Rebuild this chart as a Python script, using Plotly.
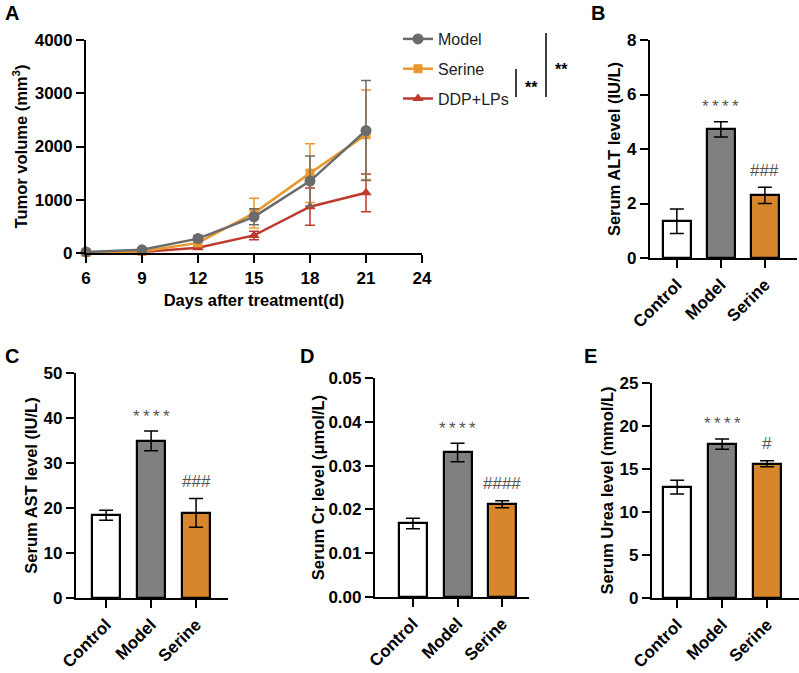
import plotly.graph_objects as go

W, H = 799, 673
FONT = "Liberation Sans"

# ---------- Panel A data ----------
days = [6, 9, 12, 15, 18, 21]
model_vol = [20, 60, 270, 680, 1350, 2300]
model_err = [10, 20, 60, 150, 470, 940]
serine_vol = [10, 30, 190, 750, 1500, 2220]
serine_err = [8, 15, 50, 280, 550, 840]
ddp_vol = [5, 20, 100, 330, 870, 1130]
ddp_err = [4, 10, 30, 80, 350, 355]
a_xticks = [6, 9, 12, 15, 18, 21, 24]
a_yticks = [0, 1000, 2000, 3000, 4000]

# ---------- Bar panels data ----------
groups = ["Control", "Model", "Serine"]
alt_mean = [1.35, 4.72, 2.30]
alt_err = [0.45, 0.28, 0.30]
ast_mean = [18.4, 34.9, 18.9]
ast_err = [1.1, 2.2, 3.2]
cr_mean = [0.0168, 0.0330, 0.0212]
cr_err = [0.0012, 0.0021, 0.0008]
urea_mean = [12.9, 17.9, 15.6]
urea_err = [0.8, 0.6, 0.35]
alt_sig = ["", "****", "###"]
ast_sig = ["", "****", "###"]
cr_sig = ["", "****", "####"]
urea_sig = ["", "****", "#"]

bar_colors = ["#FFFFFF", "#808080", "#D8862C"]
c_model, c_serine, c_ddp = "#6B6B6B", "#E9982F", "#BF3A2E"


def px_x(p):
    return p / W


def px_y(p):
    return 1 - p / H


fig = go.Figure()

# Panel A traces (draw red, orange, then gray on top)
for name, ys, es, col, sym, sz, rank in [
    ("DDP+LPs", ddp_vol, ddp_err, c_ddp, "triangle-up", 10, 3),
    ("Serine", serine_vol, serine_err, c_serine, "square", 9, 2),
    ("Model", model_vol, model_err, c_model, "circle", 11, 1),
]:
    fig.add_trace(go.Scatter(
        x=days, y=ys, name=name, mode="lines+markers",
        line=dict(color=col, width=2.5),
        marker=dict(symbol=sym, size=sz, color=col),
        error_y=dict(type="data", array=es, color=col, thickness=1.5, width=5),
        xaxis="x", yaxis="y", legendrank=rank, legendgroup=name,
        cliponaxis=False,
    ))

# Bar panels
panels = [
    ("x2", "y2", alt_mean, alt_err, alt_sig),
    ("x3", "y3", ast_mean, ast_err, ast_sig),
    ("x4", "y4", cr_mean, cr_err, cr_sig),
    ("x5", "y5", urea_mean, urea_err, urea_sig),
]
for xa, ya, m, e, sig in panels:
    fig.add_trace(go.Bar(
        x=[0, 1, 2], y=m, width=0.63,
        marker=dict(color=bar_colors, line=dict(color="black", width=2.2)),
        error_y=dict(type="data", array=e, color="black", thickness=1.5, width=7),
        xaxis=xa, yaxis=ya, showlegend=False,
    ))

axis_common = dict(
    showline=True, linecolor="black", linewidth=2.2, ticks="outside",
    ticklen=8, tickwidth=2.2, tickcolor="black", showgrid=False, zeroline=False,
    automargin=False,
    tickfont=dict(family=FONT, size=17, color="black", weight="bold"),
)
title_font = dict(family=FONT, size=16.5, color="black", weight="bold")

layout = dict(
    width=W, height=H, margin=dict(l=0, r=0, t=0, b=0, autoexpand=False),
    paper_bgcolor="white", plot_bgcolor="white", bargap=0,
    showlegend=True,
    legend=dict(x=px_x(398), y=px_y(22), xanchor="left", yanchor="top",
                font=dict(family=FONT, size=16, color="#222"),
                tracegroupgap=6, bgcolor="rgba(0,0,0,0)", itemwidth=30),
)

layout["xaxis"] = dict(axis_common, domain=[px_x(86), px_x(422)], range=[6, 24],
                       tickvals=a_xticks, anchor="y",
                       title=dict(text="Days after treatment(d)", font=title_font, standoff=8))
layout["yaxis"] = dict(axis_common, domain=[px_y(253), px_y(40)], range=[0, 4000],
                       tickvals=a_yticks, anchor="x",
                       title=dict(text="Tumor volume (mm<sup>3</sup>)", font=title_font, standoff=3))

bar_specs = [
    ("2", 650, 797, 258, 40, [-0.61, 2.73], [0, 8], 2, None, "Serum ALT level (IU/L)", 2),
    ("3", 76, 228, 598, 373, [-0.67, 2.71], [0, 50], 10, None, "Serum AST level (IU/L)", 2),
    ("4", 375, 529, 597, 378, [-0.85, 2.6], [0, 0.05], 0.01, ".2f", "Serum Cr level (μmol/L)", 0),
    ("5", 652, 799, 598, 383, [-0.56, 2.71], [0, 25], 5, None, "Serum Urea level (mmol/L)", 2),
]
for k, x0, x1, yb, yt, xr, yr, dt, fmt, ttl, so in bar_specs:
    layout["xaxis" + k] = dict(axis_common, domain=[px_x(x0), px_x(x1)], range=xr,
                               tickvals=[0, 1, 2], ticktext=groups, tickangle=-45,
                               anchor="y" + k,
                               tickfont=dict(family=FONT, size=17, color="black", weight="bold"))
    ya = dict(axis_common, domain=[px_y(yb), px_y(yt)], range=yr, dtick=dt,
              tick0=0, anchor="x" + k,
              title=dict(text=ttl, font=title_font, standoff=so))
    if fmt:
        ya["tickformat"] = fmt
    layout["yaxis" + k] = ya

fig.update_layout(**layout)

annotations = []
# significance marks above bars
for xa, ya, m, e, sig in panels:
    for i in range(3):
        if sig[i]:
            is_star = sig[i].startswith("*")
            annotations.append(dict(
                x=i, y=m[i] + e[i], xref=xa, yref=ya,
                text="\u2009".join(sig[i]) if is_star else sig[i],
                showarrow=False, xanchor="center", yanchor="middle",
                yshift=15 if is_star else 17,
                font=dict(family=FONT, size=17, color="#555")))

# panel letters
for letter, px, py in [("A", 12, 13), ("B", 598, 13), ("C", 12, 356),
                       ("D", 307, 356), ("E", 590, 356)]:
    annotations.append(dict(x=px_x(px), y=px_y(py), xref="paper", yref="paper",
                            text=letter, showarrow=False, xanchor="center", yanchor="middle",
                            font=dict(family=FONT, size=20, color="black", weight="bold")))

# significance brackets for panel A
shapes = [
    dict(type="line", xref="paper", yref="paper", x0=px_x(516), x1=px_x(516),
         y0=px_y(69), y1=px_y(97), line=dict(color="black", width=1.5)),
    dict(type="line", xref="paper", yref="paper", x0=px_x(546), x1=px_x(546),
         y0=px_y(33), y1=px_y(97), line=dict(color="black", width=1.5)),
]
for txt, px, py in [("**", 531, 88), ("**", 561, 70)]:
    annotations.append(dict(x=px_x(px), y=px_y(py), xref="paper", yref="paper",
                            text=txt, showarrow=False, xanchor="center", yanchor="middle",
                            font=dict(family=FONT, size=16, color="black", weight="bold")))

fig.update_layout(annotations=annotations, shapes=shapes)
fig.write_html("out.html")
